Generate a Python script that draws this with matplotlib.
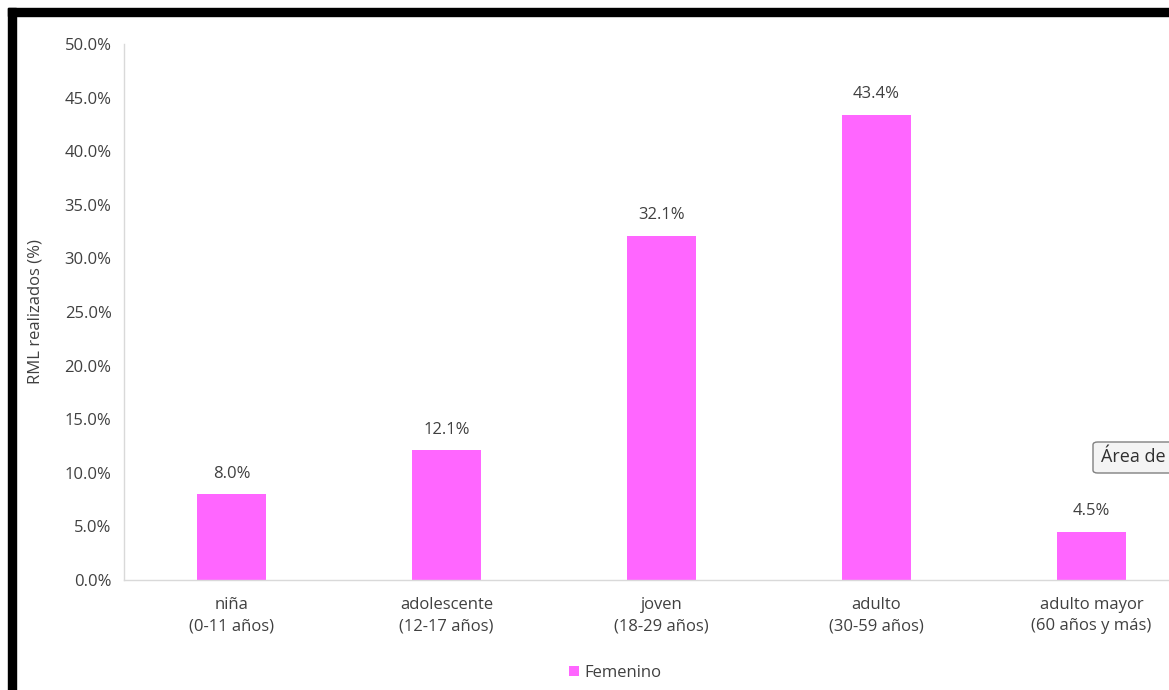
import matplotlib.pyplot as plt
from matplotlib.patches import Rectangle, FancyBboxPatch
from matplotlib.ticker import PercentFormatter

# ---- data ----
categories = ['niña\n(0-11 años)', 'adolescente\n(12-17 años)', 'joven\n(18-29 años)',
              'adulto\n(30-59 años)', 'adulto mayor\n(60 años y más)']
femenino = [8.0, 12.1, 32.1, 43.4, 4.5]
y_ticks = [0, 5, 10, 15, 20, 25, 30, 35, 40, 45, 50]

BAR_COLOR = '#FF66FF'
TEXT_COLOR = '#404040'
FS = 12
plt.rcParams['font.family'] = ['Open Sans', 'DejaVu Sans']

W, H = 1169, 690
fig = plt.figure(figsize=(W / 100, H / 100), dpi=100)
fig.patch.set_facecolor('white')

# axes spans beyond the right edge (chart is cut off in the screenshot)
ax = fig.add_axes([124 / W, 110 / H, 1075 / W, 536 / H])
x = list(range(len(categories)))
bars = ax.bar(x, femenino, width=0.32, color=BAR_COLOR, label='Femenino', zorder=2)

for rect, v in zip(bars, femenino):
    ax.annotate(f'{v:.1f}%', (rect.get_x() + rect.get_width() / 2, v),
                xytext=(0, 9), textcoords='offset points', ha='center', va='bottom',
                fontsize=FS, color=TEXT_COLOR)

ax.set_xlim(-0.5, 4.5)
ax.set_ylim(0, 50)
ax.set_yticks(y_ticks)
ax.yaxis.set_major_formatter(PercentFormatter(decimals=1))
ax.set_xticks(x)
ax.set_xticklabels(categories, fontsize=FS, color=TEXT_COLOR, linespacing=1.45)
ax.tick_params(axis='y', labelsize=FS, labelcolor=TEXT_COLOR, length=0, pad=9)
ax.tick_params(axis='x', length=0, pad=12)
for s in ['top', 'right']:
    ax.spines[s].set_visible(False)
for s in ['left', 'bottom']:
    ax.spines[s].set_color('#D9D9D9')
    ax.spines[s].set_linewidth(1.0)
ax.set_ylabel('RML realizados (%)', fontsize=FS, color=TEXT_COLOR)
ax.yaxis.set_label_coords(-0.075, 0.5)

fig.legend(handles=[bars], labels=['Femenino'], loc='center', bbox_to_anchor=(615 / W, 1 - 673 / H),
           frameon=False, fontsize=FS, handlelength=0.6, handleheight=0.6, handletextpad=0.3,
           labelcolor=TEXT_COLOR)

# tooltip box, cut off at the right edge of the screenshot
fig.add_artist(FancyBboxPatch((1093 / W, 1 - 473 / H), 100 / W, 31 / H,
                              boxstyle='round,pad=0,rounding_size=0.004', transform=fig.transFigure,
                              facecolor='#F4F4F4', edgecolor='#808080', linewidth=1, zorder=5))
fig.text(1101 / W, 1 - 457 / H, 'Área de', fontsize=13, color='#303030', va='center', ha='left', zorder=6)

# thick black window border on top and left
fig.add_artist(Rectangle((8 / W, 1 - 16 / H), 1, 8 / H, transform=fig.transFigure, color='black', zorder=10))
fig.add_artist(Rectangle((8 / W, 0), 8 / W, 1 - 8 / H, transform=fig.transFigure, color='black', zorder=10))

fig.savefig('out.png', dpi=100)
